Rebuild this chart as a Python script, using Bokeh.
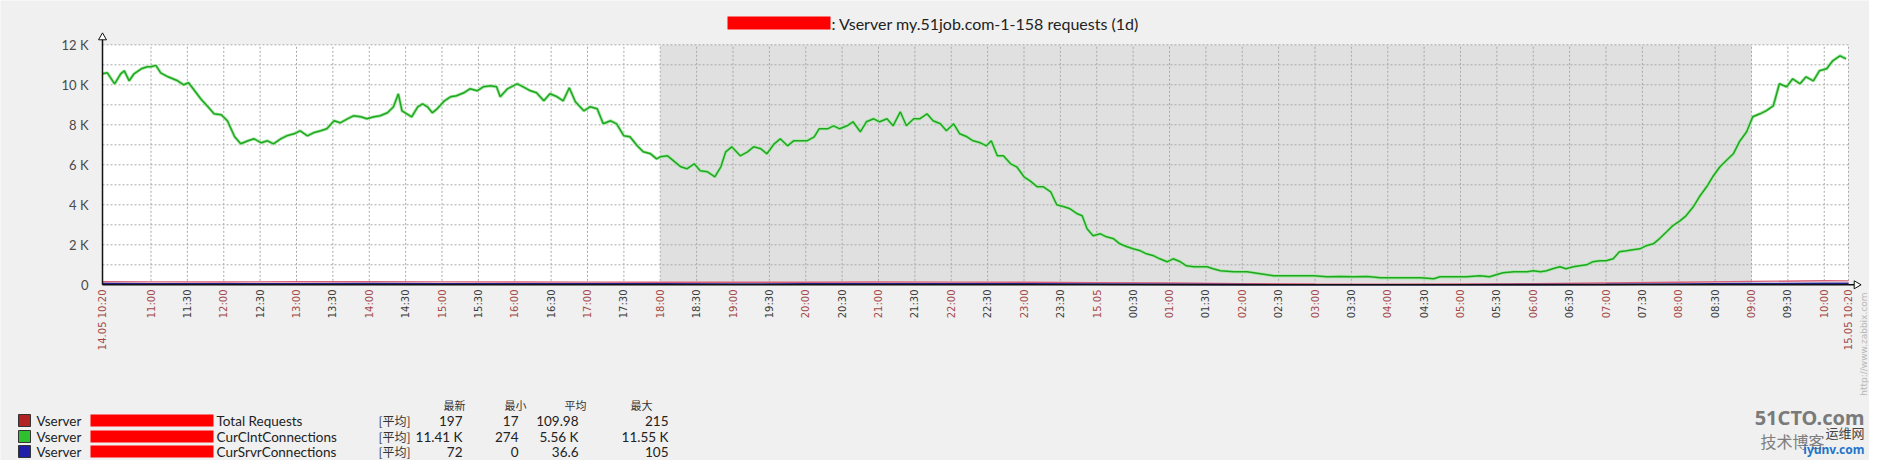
import numpy as np
from bokeh.plotting import figure
from bokeh.models import Range1d, ColumnDataSource
from bokeh.core.properties import value
from bokeh.embed import file_html
from bokeh.resources import INLINE

# ---------------- data ----------------
TITLE_TEXT = ": Vserver my.51job.com-1-158 requests (1d)"

# minutes since 14.05 10:20
green_minutes = [
    0, 4, 10, 15, 18, 22, 26, 32, 37, 40,
    44, 48, 54, 62, 67, 71, 76, 81, 87, 92,
    98, 103, 109, 114, 120, 125, 131, 136, 141, 147,
    152, 158, 163, 169, 174, 180, 185, 191, 196, 202,
    207, 213, 218, 224, 229, 235, 240, 244, 247, 251,
    255, 260, 264, 268, 272, 276, 282, 287, 292, 298,
    303, 309, 314, 320, 325, 328, 334, 342, 347, 353,
    358, 364, 369, 375, 380, 385, 390, 397, 402, 408,
    413, 419, 424, 430, 435, 441, 446, 452, 457, 460,
    466, 471, 477, 482, 488, 493, 499, 505, 510, 514,
    519, 526, 532, 537, 543, 548, 554, 559, 565, 570,
    576, 581, 587, 591, 598, 603, 608, 614, 619, 625,
    630, 636, 641, 647, 652, 658, 663, 669, 674, 680,
    685, 691, 696, 702, 707, 713, 718, 724, 729, 733,
    738, 743, 749, 754, 760, 765, 771, 776, 782, 787,
    793, 798, 804, 808, 812, 817, 823, 828, 834, 839,
    845, 850, 856, 861, 867, 872, 878, 883, 889, 894,
    900, 905, 911, 916, 922, 933, 944, 955, 966, 977,
    988, 999, 1010, 1021, 1032, 1043, 1054, 1065, 1076, 1087,
    1098, 1103, 1114, 1125, 1136, 1144, 1155, 1164, 1175, 1180,
    1186, 1191, 1196, 1202, 1207, 1213, 1218, 1224, 1229, 1235,
    1240, 1246, 1251, 1257, 1262, 1268, 1273, 1279, 1284, 1290,
    1295, 1301, 1306, 1312, 1317, 1323, 1328, 1334, 1339, 1345,
    1350, 1356, 1361, 1367, 1372, 1378, 1383, 1389, 1394, 1400,
    1405, 1411, 1416, 1422, 1427, 1433, 1438,
]
# CurClntConnections
green_values = [
    10550, 10600, 10050, 10550, 10700, 10200, 10550, 10800, 10900, 10900,
    10970, 10600, 10400, 10200, 10000, 10100, 9700, 9300, 8900, 8550,
    8500, 8200, 7400, 7050, 7200, 7300, 7100, 7200, 7050, 7300,
    7450, 7550, 7700, 7450, 7600, 7700, 7800, 8200, 8100, 8300,
    8450, 8400, 8300, 8400, 8450, 8600, 8900, 9550, 8700, 8550,
    8400, 8900, 9050, 8900, 8600, 8800, 9200, 9400, 9450, 9600,
    9800, 9700, 9900, 9950, 9900, 9400, 9800, 10050, 9900, 9700,
    9600, 9200, 9550, 9400, 9200, 9850, 9150, 8700, 8900, 8800,
    8050, 8200, 8050, 7450, 7400, 6950, 6650, 6550, 6300, 6400,
    6450, 6200, 5900, 5800, 6050, 5700, 5650, 5400, 5900, 6650,
    6900, 6450, 6650, 6900, 6800, 6550, 7050, 7300, 6950, 7200,
    7200, 7200, 7400, 7800, 7800, 7950, 7800, 7950, 8150, 7650,
    8150, 8300, 8150, 8300, 7950, 8650, 7950, 8300, 8300, 8550,
    8200, 8050, 7700, 8050, 7550, 7400, 7200, 7100, 6950, 7200,
    6450, 6450, 6050, 5900, 5400, 5200, 4900, 4900, 4650, 4000,
    3900, 3800, 3550, 3450, 2800, 2450, 2550, 2400, 2300, 2050,
    1900, 1800, 1700, 1550, 1450, 1300, 1150, 1300, 1150, 950,
    900, 900, 900, 800, 700, 650, 650, 550, 450, 450,
    450, 450, 400, 420, 400, 420, 350, 350, 350, 350,
    300, 400, 400, 400, 450, 400, 600, 650, 650, 700,
    650, 700, 800, 900, 800, 900, 950, 1000, 1150, 1200,
    1200, 1300, 1650, 1700, 1750, 1800, 1950, 2050, 2300, 2650,
    2950, 3200, 3450, 3900, 4400, 4900, 5400, 5900, 6200, 6550,
    7150, 7650, 8400, 8550, 8700, 8950, 10050, 9900, 10300, 10050,
    10400, 10200, 10700, 10800, 11200, 11450, 11300,
]

# Total Requests / CurSrvrConnections (small values near the axis)
small_minutes = [0, 40, 100, 160, 220, 280, 340, 400, 460, 520, 580, 640, 700,
                 760, 820, 880, 940, 1000, 1060, 1120, 1180, 1240, 1300, 1360, 1420, 1440]
red_values = [150, 145, 140, 150, 155, 145, 140, 135, 130, 125, 130, 140, 135,
              130, 110, 90, 60, 40, 35, 45, 60, 90, 130, 170, 200, 197]
blue_values = [60, 55, 50, 55, 60, 55, 50, 48, 45, 42, 45, 50, 48,
               45, 35, 20, 8, 3, 2, 5, 10, 20, 40, 60, 70, 72]

y_tick_values = [0, 2000, 4000, 6000, 8000, 10000, 12000]
y_tick_labels = ["0", "2 K", "4 K", "6 K", "8 K", "10 K", "12 K"]

x_tick_labels = ["14.05 10:20",
                 "11:00", "11:30", "12:00", "12:30", "13:00", "13:30", "14:00", "14:30",
                 "15:00", "15:30", "16:00", "16:30", "17:00", "17:30", "18:00", "18:30",
                 "19:00", "19:30", "20:00", "20:30", "21:00", "21:30", "22:00", "22:30",
                 "23:00", "23:30", "15.05", "00:30", "01:00", "01:30", "02:00", "02:30",
                 "03:00", "03:30", "04:00", "04:30", "05:00", "05:30", "06:00", "06:30",
                 "07:00", "07:30", "08:00", "08:30", "09:00", "09:30", "10:00",
                 "15.05 10:20"]
x_tick_minutes = [0] + list(range(40, 1421, 30)) + [1440]

night_start, night_end = 460, 1360   # 18:00 .. 09:00

legend_items = ["Total Requests", "CurClntConnections", "CurSrvrConnections"]
legend_colors = ["#b22222", "#2ec02e", "#1e1ea8"]
legend_func = ["[平均]", "[平均]", "[平均]"]
legend_last = ["197", "11.41 K", "72"]
legend_min = ["17", "274", "0"]
legend_avg = ["109.98", "5.56 K", "36.6"]
legend_max = ["215", "11.55 K", "105"]
legend_heads = ["最新", "最小", "平均", "最大"]

# ---------------- layout (picture pixels -> data) ----------------
W, H = 1869, 460
PX0, PX1 = 102.0, 1848.0       # x of 10:20 .. 10:20
PY0, PYTOP = 284.3, 44.3       # y of 0 and 12 K
SPAN, YMAX = 1440.0, 12000.0
kx = (PX1 - PX0) / SPAN
ky = (PY0 - PYTOP) / YMAX


def X(px):
    return (px - PX0) / kx


def Y(py):
    return (PY0 - py) / ky


p = figure(width=W, height=H, x_range=Range1d(X(0), X(W)),
           y_range=Range1d(Y(H), Y(0)), x_axis_type=None, y_axis_type=None,
           output_backend="svg", toolbar_location=None, min_border=0)
p.grid.visible = False
p.outline_line_color = None
p.background_fill_color = "#f0f0f0"
p.border_fill_color = "#f0f0f0"

LATO = value("Lato")
CJK = value("Noto Sans CJK SC")

# plot area + night shading
p.quad(left=[0], right=[SPAN], bottom=[0], top=[YMAX], fill_color="white", line_color=None)
p.quad(left=[night_start], right=[night_end], bottom=[0], top=[YMAX],
       fill_color="#e0e0e0", line_color=None)

# grid
hg = [v for v in range(1000, 12001, 1000)]
p.segment(x0=[0] * len(hg), x1=[SPAN] * len(hg), y0=hg, y1=hg,
          line_color="#a8a8a8", line_width=1, line_dash="2 2")
vg = x_tick_minutes[1:]
p.segment(x0=vg, x1=vg, y0=[0] * len(vg), y1=[YMAX] * len(vg),
          line_color="#a8a8a8", line_width=1, line_dash="2 2")

# series
p.line(green_minutes, green_values, line_color="#a8e6a8", line_width=3.2)
p.line(green_minutes, green_values, line_color="#1ea81e", line_width=1.5)
p.line(small_minutes, red_values, line_color="#d8607a", line_width=1.4)
p.line(small_minutes, blue_values, line_color="#22228c", line_width=1.6)

# axes lines + arrows
p.segment(x0=[0], x1=[0], y0=[0], y1=[Y(37)], line_color="#111111", line_width=1.5)
p.segment(x0=[0], x1=[X(1855)], y0=[0], y1=[0], line_color="#111111", line_width=1.5)
p.scatter([0], [Y(37)], marker="triangle", size=8, fill_color="white",
          line_color="#111111", line_width=1)
p.scatter([X(1856)], [0], marker="triangle", size=8, angle=-np.pi / 2,
          fill_color="white", line_color="#111111", line_width=1)

# y tick labels
p.text(x=[X(88)] * len(y_tick_values), y=y_tick_values, text=y_tick_labels,
       text_align="right", text_baseline="middle", text_font=LATO,
       text_font_size="13px", text_color="#4a4a4a")

# x tick labels (rotated)
xcol = ["#3c3c3c" if t.endswith(":30") else "#a44848" for t in x_tick_labels]
xsrc = ColumnDataSource(dict(x=x_tick_minutes, y=[Y(289)] * len(x_tick_minutes),
                             text=x_tick_labels, color=xcol))
p.text(x="x", y="y", text="text", text_color="color", source=xsrc, angle=np.pi / 2,
       text_align="right", text_baseline="middle", text_font=value("DejaVu Sans"),
       text_font_size="10px")

# title
p.quad(left=[X(727)], right=[X(830)], bottom=[Y(29)], top=[Y(16)],
       fill_color="#ff0000", line_color=None)
p.text(x=[X(831)], y=[Y(23)], text=[TITLE_TEXT], text_align="left",
       text_baseline="middle", text_font=LATO, text_font_size="16px", text_color="#222222")

# legend
rows = [420, 436, 451]
p.text(x=[X(v) for v in (465, 526, 586, 652)], y=[Y(404)] * 4, text=legend_heads,
       text_align="right", text_baseline="middle", text_font=CJK,
       text_font_size="11px", text_color="#333333")
for i, ry in enumerate(rows):
    p.quad(left=[X(18)], right=[X(30)], bottom=[Y(ry + 6)], top=[Y(ry - 6)],
           fill_color=legend_colors[i], line_color="#333333", line_width=1)
    p.text(x=[X(36)], y=[Y(ry)], text=["Vserver"], text_align="left", text_baseline="middle",
           text_font=LATO, text_font_size="13.5px", text_color="#222222")
    p.quad(left=[X(90)], right=[X(213)], bottom=[Y(ry + 6)], top=[Y(ry - 6)],
           fill_color="#ff0000", line_color=None)
    p.text(x=[X(216)], y=[Y(ry)], text=[legend_items[i]], text_align="left",
           text_baseline="middle", text_font=LATO, text_font_size="13.5px",
           text_color="#222222")
    p.text(x=[X(378)], y=[Y(ry)], text=[legend_func[i]], text_align="left",
           text_baseline="middle", text_font=CJK, text_font_size="12px",
           text_color="#333333")
    for col, arr in zip((462, 518, 578, 668), (legend_last, legend_min, legend_avg, legend_max)):
        p.text(x=[X(col)], y=[Y(ry)], text=[arr[i]], text_align="right",
               text_baseline="middle", text_font=LATO, text_font_size="13.5px",
               text_color="#222222")

# side note + watermark
p.text(x=[X(1863)], y=[Y(292)], text=["http://www.zabbix.com"], angle=np.pi / 2,
       text_align="right", text_baseline="middle", text_font=value("DejaVu Sans"),
       text_font_size="9px", text_color="#b8b8b8")
p.text(x=[X(1864)], y=[Y(417)], text=["51CTO.com"], text_align="right", text_baseline="middle",
       text_font=value("Noto Sans"), text_font_style="bold", text_font_size="20px",
       text_color="#7a7a7a")
p.text(x=[X(1760)], y=[Y(440)], text=["技术博客"], text_align="left", text_baseline="middle",
       text_font=CJK, text_font_size="16px", text_color="#7e7e7e")
p.text(x=[X(1864)], y=[Y(432)], text=["运维网"], text_align="right", text_baseline="middle",
       text_font=CJK, text_font_size="13px", text_color="#444444")
p.text(x=[X(1864)], y=[Y(449)], text=["iyunv.com"], text_align="right", text_baseline="middle",
       text_font=value("Noto Sans"), text_font_style="bold", text_font_size="12px",
       text_color="#1f74c8")

open("out.html", "w").write(file_html(p, INLINE))
